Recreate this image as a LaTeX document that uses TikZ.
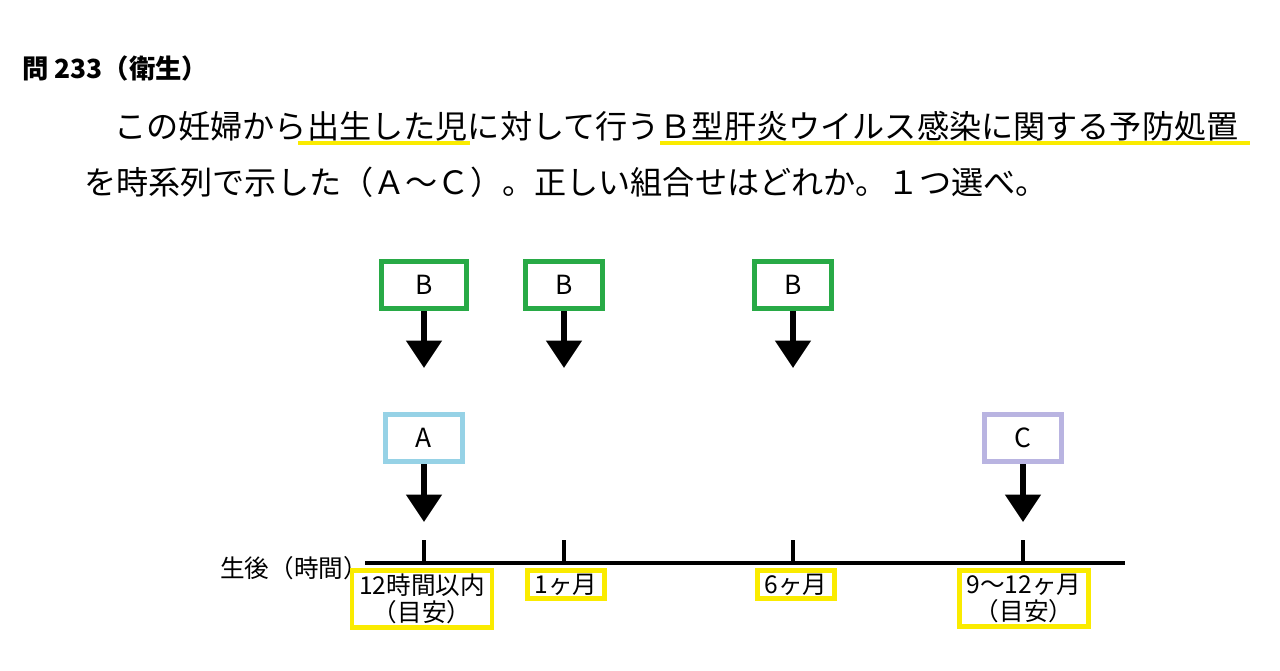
\documentclass[tikz,border=0pt]{standalone}
\usepackage{fontspec}
\setmainfont{Noto Sans CJK JP}
\setsansfont{Noto Sans CJK JP}
\usetikzlibrary{arrows.meta}
\definecolor{boxgreen}{RGB}{40,170,70}
\definecolor{boxblue}{RGB}{150,210,230}
\definecolor{boxlav}{RGB}{185,180,225}
\definecolor{markyellow}{RGB}{250,235,0}
\begin{document}
\begin{tikzpicture}[x=0.02cm,y=-0.02cm,
    step/.style={draw=#1,line width=2.6pt,minimum width=1.55cm,minimum height=0.95cm,font=\fontsize{15}{15}\selectfont},
    tag/.style={draw=markyellow,line width=2.6pt,inner xsep=4pt,inner ysep=2pt,align=center,font=\fontsize{14}{15.5}\selectfont},
    down/.style={line width=3pt,-{Triangle[length=0.55cm,width=0.7cm]}}]
    \useasboundingbox (0,0) rectangle (1280,670);
    % heading and question
    \node[anchor=west,font=\bfseries\fontsize{15}{15}\selectfont] (head) at (16,68) {問 233（衛生）};
    \fill[markyellow] (298,141) rectangle (470,145);
    \fill[markyellow] (660,141) rectangle (1250,145);
    \node[anchor=west,font=\fontsize{18.3}{19}\selectfont] (q1) at (108,126) {この妊婦から出生した児に対して行うＢ型肝炎ウイルス感染に関する予防処置};
    \node[anchor=west,font=\fontsize{18.3}{19}\selectfont] (q2) at (78,182) {を時系列で示した（Ａ～Ｃ）。正しい組合せはどれか。１つ選べ。};
    % B boxes
    \node[step=boxgreen,minimum width=1.7cm] (b1) at (424,285) {B};
    \node[step=boxgreen] (b2) at (564,285) {B};
    \node[step=boxgreen] (b3) at (793,285) {B};
    \foreach \n/\x in {b1/424,b2/564,b3/793} {
        \coordinate (\n e) at (\x,368);
        \draw[down] (\n) -- (\n e);
    }
    % A and C
    \node[step=boxblue] (a) at (424,438) {A};
    \node[step=boxlav] (c) at (1023,438) {C};
    \coordinate (ae) at (424,522);
    \coordinate (ce) at (1023,522);
    \draw[down] (a) -- (ae);
    \draw[down] (c) -- (ce);
    % time axis
    \coordinate (t0) at (365,563);
    \coordinate (t1) at (1125,563);
    \draw[line width=1.8pt] (t0) -- (t1);
    \foreach \x in {424,564,793,1023}
        \draw[line width=1.8pt] (\x,540) -- (\x,563);
    \node[anchor=east,font=\fontsize{14}{14}\selectfont] (axis) at (374,568) {生後（時間）};
    % labels
    \node[tag,anchor=north] (l1) at (422,568) {12時間以内\\（目安）};
    \node[tag,anchor=north] (l2) at (566,568) {1ヶ月};
    \node[tag,anchor=north] (l3) at (796,568) {6ヶ月};
    \node[tag,anchor=north] (l4) at (1024,568) {9～12ヶ月\\（目安）};
\end{tikzpicture}
\end{document}
